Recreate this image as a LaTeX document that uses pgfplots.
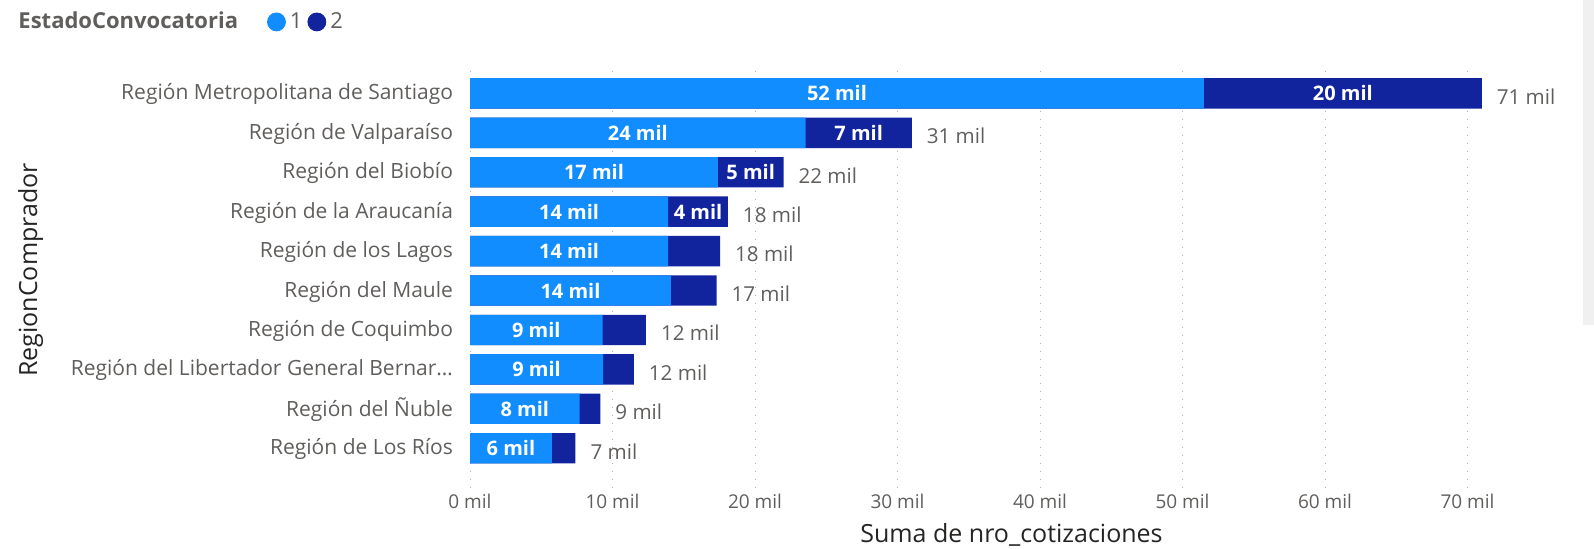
\documentclass[border=0pt]{standalone}
\usepackage{pgfplots}
\pgfplotsset{compat=1.18}
\usepackage{pgfplotstable}
\usepackage{fontspec}
\setmainfont{Open Sans}
\definecolor{cA}{HTML}{118DFF}
\definecolor{cB}{HTML}{12239E}
\definecolor{lblgray}{HTML}{605E5C}
\definecolor{titlegray}{HTML}{252423}
\pgfplotstableread[col sep=comma]{
idx,a,b,total,lt,la,lb
0,51.5,19.5,71.0,71 mil,52 mil,20 mil
1,23.55,7.45,31.0,31 mil,24 mil,7 mil
2,17.4,4.6,22.0,22 mil,17 mil,5 mil
3,13.9,4.2,18.1,18 mil,14 mil,4 mil
4,13.9,3.65,17.55,18 mil,14 mil,4 mil
5,14.1,3.2,17.3,17 mil,14 mil,3 mil
6,9.3,3.05,12.35,12 mil,9 mil,3 mil
7,9.35,2.15,11.5,12 mil,9 mil,2 mil
8,7.7,1.45,9.15,9 mil,8 mil,1 mil
9,5.75,1.65,7.4,7 mil,6 mil,2 mil
}\data
\begin{document}
\begin{tikzpicture}
\useasboundingbox (0,0) rectangle (797pt,274.5pt);
\fill[black!6] (791.5pt,112pt) rectangle (797pt,274.5pt);
\begin{axis}[
  at={(235pt,29.5pt)}, anchor=south west,
  x=7.125pt, y=19.71pt,
  xmin=0, xmax=76, ymin=-0.57, ymax=10.06,
  y dir=reverse,
  clip=false,
  axis line style={draw=none},
  major tick length=0pt,
  xtick={0,10,20,30,40,50,60,70},
  xticklabels={0 mil,10 mil,20 mil,30 mil,40 mil,50 mil,60 mil,70 mil},
  ytick={0,1,2,3,4,5,6,7,8,9},
  yticklabels={{Región Metropolitana de Santiago},{Región de Valparaíso},{Región del Biobío},{Región de la Araucanía},{Región de los Lagos},{Región del Maule},{Región de Coquimbo},{Región del Libertador General Bernar\ldots},{Región del Ñuble},{Región de Los Ríos}},
  xmajorgrids,
  grid style={black!30, line width=0.5pt, dash pattern=on 0.5pt off 3.5pt},
  xticklabel style={font=\fontsize{9.5}{11}\selectfont, text=lblgray, yshift=1.5pt},
  yticklabel style={font=\fontsize{10.5}{12}\selectfont, text=lblgray, xshift=-5pt, yshift=-0.5pt},
  xlabel={Suma de nro\_cotizaciones},
  ylabel={RegionComprador},
  label style={font=\fontsize{12.5}{14}\selectfont, text=titlegray},
  xlabel style={at={(axis description cs:0.5,0)}, anchor=center, yshift=-22.5pt},
  ylabel style={at={(axis description cs:-0.4058,0.525)}, anchor=center},
  legend style={at={(axis description cs:-0.421,1.117)}, anchor=west, draw=none, fill=none, inner sep=0pt,
    font=\fontsize{11}{13}\selectfont, text=lblgray,
    /tikz/every even column/.append style={column sep=0.5pt}},
  legend columns=3,
  legend cell align=left,
]
\addlegendimage{empty legend}
\addlegendentry{\textbf{EstadoConvocatoria}\rule{12pt}{0pt}}
\addlegendimage{legend image code/.code={\fill[cA] (4.5pt,0pt) circle (4.5pt);}}
\addlegendentry{1}
\addlegendimage{legend image code/.code={\fill[cB] (4.5pt,0pt) circle (4.5pt);}}
\addlegendentry{2}
% dark (total) bars
\addplot[forget plot, xbar, bar width=15.2pt, bar shift=0pt, fill=cB, draw=none,
  nodes near coords, point meta=explicit symbolic,
  every node near coord/.style={anchor=west, xshift=4pt, yshift=-1.5pt, font=\fontsize{10.3}{12}\selectfont, text=lblgray}]
  table[x=total, y=idx, meta=lt] {\data};
% light bars
\addplot[forget plot, xbar, bar width=15.2pt, bar shift=0pt, fill=cA, draw=none]
  table[x=a, y=idx] {\data};
% inside labels light
\addplot[forget plot, draw=none, mark=none,
  nodes near coords, point meta=explicit symbolic,
  every node near coord/.style={anchor=center, font=\bfseries\fontsize{10}{12}\selectfont, text=white}]
  table[x expr=\thisrow{a}/2, y=idx, meta=la] {\data};
% inside labels dark
\addplot[forget plot, draw=none, mark=none, skip coords between index={4}{10},
  nodes near coords, point meta=explicit symbolic,
  every node near coord/.style={anchor=center, font=\bfseries\fontsize{10}{12}\selectfont, text=white}]
  table[x expr=\thisrow{a}+\thisrow{b}/2, y=idx, meta=lb] {\data};
\end{axis}
\end{tikzpicture}
\end{document}
